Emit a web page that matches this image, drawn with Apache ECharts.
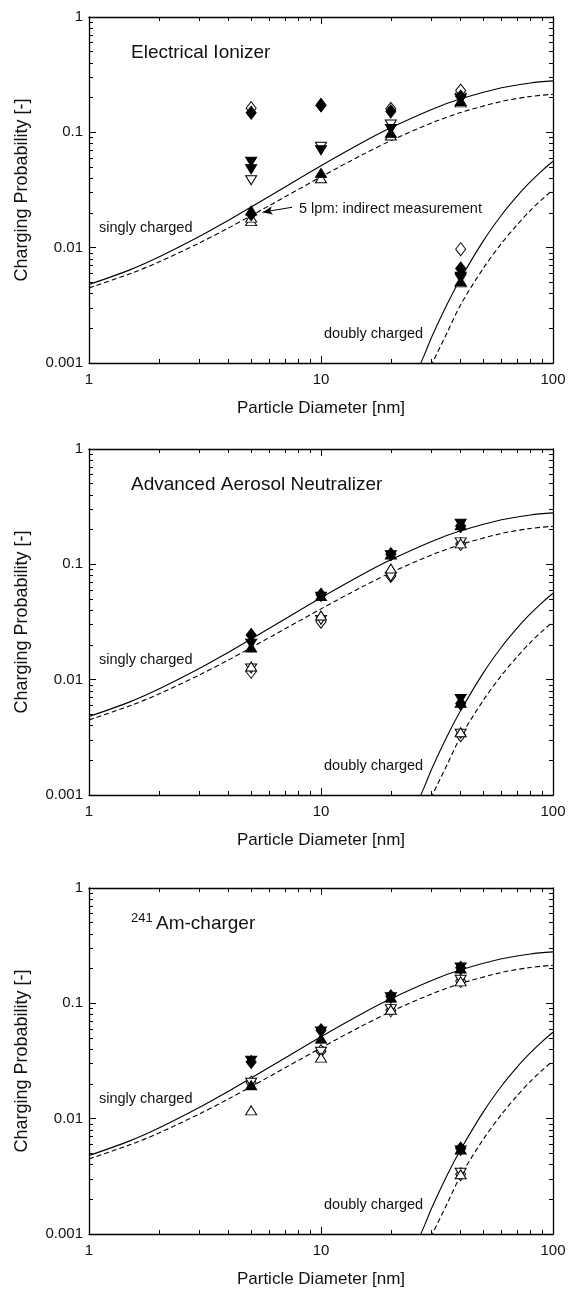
<!DOCTYPE html>
<html><head><meta charset="utf-8">
<script src="https://cdn.jsdelivr.net/npm/echarts@6/dist/echarts.min.js"></script>
<style>html,body{margin:0;padding:0;background:#fff}#c{width:569px;height:1289px}</style>
</head><body><div id="c"></div>
<script>
// ---------- data ----------
const panelTitles = ['Electrical Ionizer', 'Advanced Aerosol Neutralizer', 'Am-charger'];
const isotopeSup = '241';
const xTickLabels = [1, 10, 100];
const yTickLabels = [0.001, 0.01, 0.1, 1];
const xName = 'Particle Diameter [nm]';
const yName = 'Charging Probability [-]';
const singlyLabel = 'singly charged';
const doublyLabel = 'doubly charged';
const indirectLabel = '5 lpm: indirect measurement';
const indirectArrow = [[7.5, 0.0224], [5.6, 0.0203]];

// theory curves
const singlyD   = [1, 1.5, 2, 3, 4, 5, 7, 10, 15, 20, 30, 40, 60, 80, 100];
const singlyNeg = [0.00479, 0.00642, 0.00829, 0.01254, 0.01732, 0.0225, 0.03364, 0.0514, 0.0813, 0.1095, 0.1579, 0.1952, 0.2432, 0.2681, 0.2793];
const singlyPos = [0.00448, 0.00593, 0.00751, 0.01102, 0.01485, 0.01894, 0.02758, 0.0411, 0.0636, 0.0847, 0.1207, 0.1485, 0.1852, 0.2047, 0.2138];
const doublyNegD = [26, 28, 30, 35, 40, 50, 60, 70, 80, 90, 100];
const doublyNeg  = [0.00085, 0.0012, 0.00168, 0.00325, 0.0054, 0.0114, 0.0192, 0.028, 0.0373, 0.0468, 0.0561];
const doublyPosD = [28, 30, 35, 40, 50, 60, 70, 80, 90, 100];
const doublyPos  = [0.0007, 0.00097, 0.00184, 0.0032, 0.0066, 0.0109, 0.0158, 0.0211, 0.0264, 0.0317];

// measured points [diameter, probability]
const ionFilledDiamond = [[5, 0.148], [5, 0.0195], [10, 0.172], [20, 0.152], [40, 0.204], [40, 0.0066]];
const ionOpenDiamond   = [[5, 0.162], [10, 0.172], [20, 0.160], [40, 0.230], [40, 0.0097]];
const ionFilledDown    = [[5, 0.0556], [5, 0.0478], [10, 0.0700], [20, 0.107], [40, 0.195], [40, 0.0056]];
const ionOpenDown      = [[5, 0.0384], [10, 0.0750], [20, 0.117], [40, 0.200], [40, 0.0054]];
const ionFilledUp      = [[5, 0.0210], [10, 0.0445], [20, 0.099], [40, 0.187], [40, 0.0051]];
const ionOpenUp        = [[5, 0.0170], [5, 0.0182], [10, 0.0400], [20, 0.094], [40, 0.182], [40, 0.0050]];

const aanFilledDiamond = [[5, 0.0244], [10, 0.0545], [20, 0.1225], [40, 0.215], [40, 0.0062]];
const aanOpenDiamond   = [[5, 0.0117], [10, 0.0318], [20, 0.0792], [40, 0.150], [40, 0.0033]];
const aanFilledDown    = [[5, 0.0205], [10, 0.0525], [20, 0.120], [40, 0.225], [40, 0.0068]];
const aanOpenDown      = [[5, 0.0125], [10, 0.0330], [20, 0.078], [40, 0.155], [40, 0.0034]];
const aanFilledUp      = [[5, 0.0190], [10, 0.0530], [20, 0.1215], [40, 0.218], [40, 0.0063]];
const aanOpenUp        = [[5, 0.0130], [10, 0.0360], [20, 0.092], [40, 0.152], [40, 0.0035]];

const amFilledDiamond = [[5, 0.0310], [10, 0.0585], [20, 0.115], [40, 0.203], [40, 0.0055]];
const amOpenDiamond   = [[5, 0.0205], [10, 0.0385], [20, 0.087], [40, 0.156], [40, 0.0033]];
const amFilledDown    = [[5, 0.0318], [10, 0.0570], [20, 0.113], [40, 0.205], [40, 0.0053]];
const amOpenDown      = [[5, 0.0205], [10, 0.0380], [20, 0.089], [40, 0.160], [40, 0.0034]];
const amFilledUp      = [[5, 0.0195], [10, 0.0494], [20, 0.112], [40, 0.200], [40, 0.0054]];
const amOpenUp        = [[5, 0.0118], [10, 0.0338], [20, 0.088], [40, 0.155], [40, 0.0033]];

const panelPoints = [
  [ionOpenDiamond, ionOpenDown, ionOpenUp, ionFilledDiamond, ionFilledDown, ionFilledUp],
  [aanOpenDiamond, aanOpenDown, aanOpenUp, aanFilledDiamond, aanFilledDown, aanFilledUp],
  [amOpenDiamond, amOpenDown, amOpenUp, amFilledDiamond, amFilledDown, amFilledUp]
];

// ---------- styling / layout ----------
const F = "'Liberation Sans', Arial, Helvetica, sans-serif";
const INK = '#111';
const gridTops = [17, 449, 888];
const GL = 89, GW = 464, GH = 346;
const markerDefs = [
  {symbol: 'diamond', rotate: 0, fill: '#fff', size: [10, 13]},
  {symbol: 'triangle', rotate: 180, fill: '#fff', size: [11, 9]},
  {symbol: 'triangle', rotate: 0, fill: '#fff', size: [11, 9]},
  {symbol: 'diamond', rotate: 0, fill: '#000', size: [10, 13]},
  {symbol: 'triangle', rotate: 180, fill: '#000', size: [11, 9]},
  {symbol: 'triangle', rotate: 0, fill: '#000', size: [11, 9]}
];

function decadeMinors(lo, hi) {
  const out = [];
  for (let d = lo; d < hi; d *= 10) for (let k = 2; k <= 9; k++) out.push(+(k * d).toPrecision(3));
  return out;
}
const minorX = decadeMinors(1, 100);
const minorY = decadeMinors(0.001, 1);
const fmt = v => String(+Number(v).toPrecision(3));

const grids = [], xAxes = [], yAxes = [], series = [], graphic = [];
const axLine = {show: true, onZero: false, lineStyle: {color: '#000', width: 1.3}};

gridTops.forEach((top, g) => {
  grids.push({left: GL, top: top, width: GW, height: GH, containLabel: false});
  const xb = {type: 'log', logBase: 10, min: 1, max: 100, gridIndex: g, splitLine: {show: false}};
  const yb = {type: 'log', logBase: 10, min: 0.001, max: 1, gridIndex: g, splitLine: {show: false}};
  xAxes.push(
    Object.assign({}, xb, {position: 'bottom', name: xName, nameLocation: 'middle', nameGap: 37,
      nameTextStyle: {fontSize: 17, color: INK, fontFamily: F},
      axisLine: axLine,
      axisTick: {show: true, inside: true, length: 7, lineStyle: {color: '#000', width: 1}, customValues: [10]},
      axisLabel: {show: true, margin: 9, fontSize: 15, color: INK, fontFamily: F, formatter: fmt, customValues: xTickLabels}}),
    Object.assign({}, xb, {position: 'bottom', axisLine: {show: false},
      axisTick: {show: true, inside: true, length: 4, lineStyle: {color: '#000', width: 1}, customValues: minorX},
      axisLabel: {show: false}}),
    Object.assign({}, xb, {position: 'top', axisLine: axLine,
      axisTick: {show: true, inside: true, length: 7, lineStyle: {color: '#000', width: 1}, customValues: [10]},
      axisLabel: {show: false}}),
    Object.assign({}, xb, {position: 'top', axisLine: {show: false},
      axisTick: {show: true, inside: true, length: 4, lineStyle: {color: '#000', width: 1}, customValues: minorX},
      axisLabel: {show: false}})
  );
  yAxes.push(
    Object.assign({}, yb, {position: 'left', name: yName, nameLocation: 'middle', nameGap: 58,
      nameTextStyle: {fontSize: 18, color: INK, fontFamily: F},
      axisLine: axLine,
      axisTick: {show: true, inside: true, length: 7, lineStyle: {color: '#000', width: 1}, customValues: [0.01, 0.1]},
      axisLabel: {show: true, margin: 6, fontSize: 15, color: INK, fontFamily: F, formatter: fmt, customValues: yTickLabels}}),
    Object.assign({}, yb, {position: 'left', axisLine: {show: false},
      axisTick: {show: true, inside: true, length: 4, lineStyle: {color: '#000', width: 1}, customValues: minorY},
      axisLabel: {show: false}}),
    Object.assign({}, yb, {position: 'right', axisLine: axLine,
      axisTick: {show: true, inside: true, length: 7, lineStyle: {color: '#000', width: 1}, customValues: [0.01, 0.1]},
      axisLabel: {show: false}}),
    Object.assign({}, yb, {position: 'right', axisLine: {show: false},
      axisTick: {show: true, inside: true, length: 4, lineStyle: {color: '#000', width: 1}, customValues: minorY},
      axisLabel: {show: false}})
  );
  const xi = g * 4, yi = g * 4;
  const line = (xs, ys, dashed) => ({
    type: 'line', xAxisIndex: xi, yAxisIndex: yi, data: xs.map((x, i) => [x, ys[i]]),
    smooth: 0.3, showSymbol: false, symbol: 'none', clip: true, silent: true, z: 2,
    lineStyle: {color: '#000', width: 1.1, type: dashed ? [5, 3] : 'solid'}
  });
  series.push(line(singlyD, singlyNeg, false), line(singlyD, singlyPos, true),
              line(doublyNegD, doublyNeg, false), line(doublyPosD, doublyPos, true));
  panelPoints[g].forEach((pts, k) => {
    const m = markerDefs[k];
    const s = {
      type: 'scatter', xAxisIndex: xi, yAxisIndex: yi, data: pts, symbol: m.symbol,
      symbolRotate: m.rotate, symbolSize: m.size, z: 3 + k,
      itemStyle: {color: m.fill, borderColor: '#000', borderWidth: 1, opacity: 1}
    };
    if (g === 0 && k === 3) {
      s.markLine = {silent: true, symbol: ['none', 'arrow'], symbolSize: [6, 10],
        lineStyle: {color: '#000', width: 1, type: 'solid'}, label: {show: false},
        data: [[{coord: indirectArrow[0]}, {coord: indirectArrow[1]}]]};
    }
    series.push(s);
  });
  // texts
  const txt = (x, y, text, size) => ({type: 'text', x: x, y: y, silent: true,
    style: {text: text, fontSize: size, fontFamily: F, fill: INK, align: 'left', verticalAlign: 'middle'}});
  if (g === 2) {
    graphic.push(txt(131, top + 30, isotopeSup, 13), txt(156, top + 36, panelTitles[g], 19));
  } else {
    graphic.push(txt(131, top + 35.5, panelTitles[g], 19));
  }
  graphic.push(txt(99, top + 211, singlyLabel, 14.5), txt(324, top + 317, doublyLabel, 14.5));
  if (g === 0) graphic.push(txt(299, top + 192, indirectLabel, 14.5));
});

const chart = echarts.init(document.getElementById('c'), null, {renderer: 'canvas'});
chart.setOption({
  animation: false, backgroundColor: '#fff',
  grid: grids, xAxis: xAxes, yAxis: yAxes, series: series, graphic: graphic
});
</script></body></html>
